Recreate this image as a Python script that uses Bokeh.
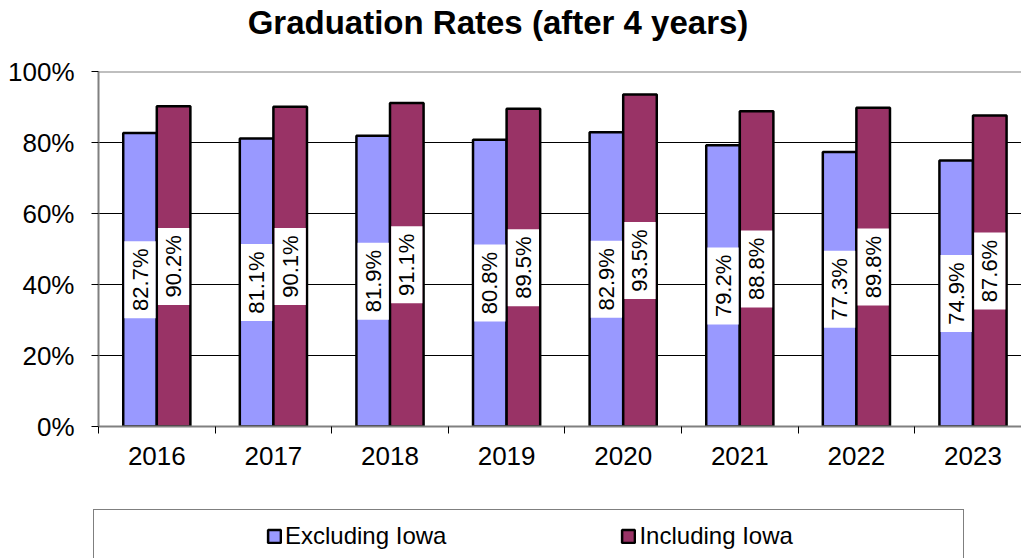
import numpy as np
from bokeh.plotting import figure
from bokeh.models import (ColumnDataSource, Range1d, FixedTicker, Legend, LegendItem,
                          Span, Label)
from bokeh.layouts import column, row
from bokeh.transform import dodge
from bokeh.core.properties import value
from bokeh.embed import file_html
from bokeh.resources import INLINE

# ---------------- data ----------------
years = ["2016", "2017", "2018", "2019", "2020", "2021", "2022", "2023"]
excluding = [82.7, 81.1, 81.9, 80.8, 82.9, 79.2, 77.3, 74.9]
including = [90.2, 90.1, 91.1, 89.5, 93.5, 88.8, 89.8, 87.6]
series = ["Excluding Iowa", "Including Iowa"]
colors = ["#9999FF", "#993366"]
y_ticks = [0, 20, 40, 60, 80, 100]
title_text = "Graduation Rates (after 4 years)"

FONT = "Liberation Sans"
W = 1021
LEFT = 98
LEG_LEFT = 93
TITLE_H = 44
MAIN_H = 456
LEG_H = 58
FRAME_H = 355
CAT_PX = 116.6
x_end = (W - LEFT) / CAT_PX
BAR_W = 0.288

pos = [i + 0.5 for i in range(len(years))]
src = ColumnDataSource(dict(
    x=pos,
    exc=excluding,
    inc=including,
    exc_mid=[v / 2 for v in excluding],
    inc_mid=[v / 2 for v in including],
    exc_lbl=[f"{v:.1f}%" for v in excluding],
    inc_lbl=[f"{v:.1f}%" for v in including],
))


def blank_fig(h, left):
    f = figure(width=W, height=h, x_axis_type=None, y_axis_type=None,
               x_range=Range1d(0, 1), y_range=Range1d(0, 1),
               toolbar_location=None, output_backend="svg",
               min_border_left=left, min_border_right=0, min_border_top=0, min_border_bottom=0)
    f.outline_line_color = None
    f.background_fill_color = "white"
    f.border_fill_color = "white"
    return f


# ---------------- title ----------------
tf = blank_fig(TITLE_H, LEFT)
tf.add_layout(Label(x=(W / 2 - 13) - LEFT, y=TITLE_H - 22, x_units="screen", y_units="screen",
                    text=title_text, text_font=FONT, text_font_size="33px",
                    text_font_style="bold", text_color="black",
                    text_align="center", text_baseline="middle"))

# ---------------- main chart ----------------
p = figure(width=W, height=MAIN_H, x_range=Range1d(0, x_end), y_range=Range1d(0, 100),
           output_backend="svg", toolbar_location=None,
           min_border_left=LEFT, min_border_right=0,
           min_border_top=71 - TITLE_H, min_border_bottom=MAIN_H - (71 - TITLE_H) - FRAME_H)
p.background_fill_color = "white"
p.border_fill_color = "white"
p.outline_line_color = None

# y axis
p.yaxis.ticker = FixedTicker(ticks=y_ticks)
p.yaxis.major_label_overrides = {t: f"{t}%" for t in y_ticks}
p.yaxis.axis_line_color = "#808080"
p.yaxis.axis_line_width = 2
p.yaxis.major_tick_line_color = "black"
p.yaxis.major_tick_out = 7
p.yaxis.major_tick_in = 0
p.yaxis.minor_tick_line_color = None
p.yaxis.major_label_standoff = 17
p.yaxis.major_label_text_font = FONT
p.yaxis.major_label_text_font_size = "26px"
p.yaxis.major_label_text_color = "black"

# x axis
p.xaxis.ticker = FixedTicker(ticks=pos, minor_ticks=list(range(len(years) + 1)))
p.xaxis.major_label_overrides = {x: y for x, y in zip(pos, years)}
p.xaxis.axis_line_color = "#808080"
p.xaxis.axis_line_width = 2
p.xaxis.major_tick_line_color = None
p.xaxis.minor_tick_line_color = "black"
p.xaxis.minor_tick_out = 7
p.xaxis.minor_tick_in = 0
p.xaxis.major_label_standoff = 13
p.xaxis.major_label_text_font = FONT
p.xaxis.major_label_text_font_size = "26px"
p.xaxis.major_label_text_color = "black"

# grid
p.xgrid.visible = False
p.ygrid.ticker = FixedTicker(ticks=y_ticks[1:-1])
p.ygrid.grid_line_color = "black"
p.ygrid.grid_line_width = 1

p.add_layout(Span(location=y_ticks[-1], dimension="width", line_color="#808080", line_width=2))

# bars
p.vbar(x=dodge("x", -BAR_W / 2), top="exc", width=BAR_W, source=src,
       fill_color=colors[0], line_color="black", line_width=2.5)
p.vbar(x=dodge("x", BAR_W / 2), top="inc", width=BAR_W, source=src,
       fill_color=colors[1], line_color="black", line_width=2.5)

# value labels
for off, mid, lbl in [(-BAR_W / 2, "exc_mid", "exc_lbl"), (BAR_W / 2, "inc_mid", "inc_lbl")]:
    p.rect(x=dodge("x", off), y=mid, width=BAR_W - 0.02, height=77, height_units="screen",
           source=src, fill_color="white", line_color=None)
    p.text(x=dodge("x", off), y=mid, text=lbl, source=src, angle=np.pi / 2,
           text_align="center", text_baseline="middle", text_font=value(FONT),
           text_font_size="22px", text_color="black")

# ---------------- legend ----------------
lf = blank_fig(LEG_H, LEG_LEFT)
dummy = lf.scatter(x=[], y=[], size=0)
box = Legend(items=[LegendItem(label=" ", renderers=[dummy])],
             location=(0, -13), padding=0, margin=0,
             glyph_width=1, glyph_height=1, label_standoff=0,
             label_width=868, label_height=60,
             border_line_color="black", border_line_width=1,
             background_fill_color="white", background_fill_alpha=1)
lf.add_layout(box)

r1 = lf.vbar(x=[-10], top=[-10], width=0.1, fill_color=colors[0], line_color="black", line_width=2.5)
r2 = lf.vbar(x=[-10], top=[-10], width=0.1, fill_color=colors[1], line_color="black", line_width=2.5)
legend = Legend(items=[LegendItem(label=series[0], renderers=[r1], index=0),
                       LegendItem(label=series[1], renderers=[r2], index=0)],
                orientation="horizontal", location=(173, 8), padding=0, margin=0,
                border_line_color=None, background_fill_alpha=0,
                glyph_width=16, glyph_height=16, label_height=28,
                label_standoff=3, spacing=174,
                label_text_font=FONT, label_text_font_size="24px",
                label_text_color="black")
lf.add_layout(legend)

layout = column(column(tf, p, spacing=0), row(lf), spacing=0)
open("out.html", "w").write(file_html(layout, INLINE))
